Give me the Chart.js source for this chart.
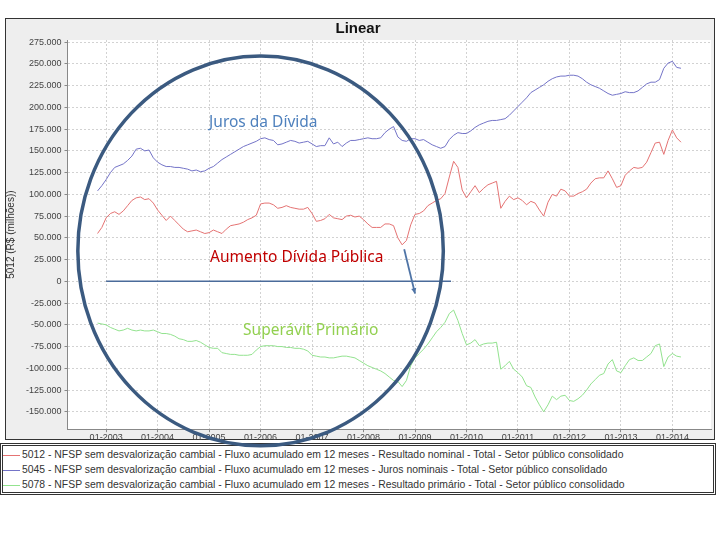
<!DOCTYPE html>
<html>
<head>
<meta charset="utf-8">
<script src="https://cdn.jsdelivr.net/npm/chart.js@4.4.0/dist/chart.umd.min.js"></script>
<style>
    html, body { margin: 0; padding: 0; background: #fff; }
    #wrap { position: relative; width: 720px; height: 540px; }
    #legend {
        position: absolute; left: 0; top: 443px; width: 710px; height: 45px;
        border: 3px double #333; background: #fff;
        font: 10.4px 'Liberation Sans', sans-serif; color: #333; padding-top: 1px;
    }
    #legend div { height: 15px; line-height: 15px; white-space: nowrap; }
    #legend .mark { display: inline-block; width: 17px; height: 0; border-top: 1px solid; vertical-align: middle; margin: 0 2px 0 0; }
    #myChart { position: absolute; left: 0; top: 0; z-index: 2; }
</style>
</head>
<body>
<div id="wrap">
    <div id="legend"></div>
    <canvas id="myChart" width="720" height="540"></canvas>
</div>
<script>
// monthly series, first point = 11/2002 (R$ mil milhões)
const startYear = 2002;
const startMonth = 11;

const nominal = [
    55, 62, 73, 78, 80, 77, 81, 87, 93, 96, 97, 94, 95, 90, 82, 76, 70, 75, 70, 65,
    60, 57, 58, 59, 57, 55, 56, 59, 57, 55, 60, 64, 65, 66, 68, 71, 73, 76, 89, 90,
    90, 88, 84, 85, 87, 85, 84, 83, 83, 85, 78, 69, 70, 72, 77, 73, 72, 71, 75, 76,
    74, 75, 71, 66, 62, 62, 62, 66, 66, 64, 50, 42, 47, 65, 77, 78, 81, 87, 90, 93,
    95, 101, 120, 138, 131, 105, 96, 103, 110, 102, 107, 111, 113, 115, 84, 92, 98, 94, 96, 93,
    88, 92, 90, 82, 75, 91, 100, 98, 106, 104, 98, 98, 101, 103, 106, 113, 118, 119, 119, 127,
    118, 108, 110, 122, 127, 131, 130, 131, 137, 148, 159, 160, 146, 162, 174, 165, 160
];
const juros = [
    104, 110, 117, 125, 131, 133, 135, 139, 144, 152, 153, 150, 151, 142, 137, 134, 132, 132, 131, 131,
    130, 129, 127, 128, 126, 127, 130, 132, 136, 140, 143, 146, 149, 152, 155, 157, 159, 161, 164, 165,
    163, 162, 157, 158, 160, 162, 161, 159, 160, 161, 158, 155, 156, 156, 165, 158, 160, 155, 159, 162,
    162, 163, 164, 165, 164, 164, 165, 171, 175, 178, 166, 162, 161, 164, 164, 162, 163, 160, 157, 155,
    153, 155, 163, 168, 171, 170, 170, 173, 177, 180, 182, 184, 185, 185, 186, 187, 191, 196, 201, 206,
    211, 217, 220, 223, 226, 230, 233, 235, 236, 236, 237, 237, 236, 233, 229, 226, 224, 222, 219, 216,
    214, 215, 216, 218, 217, 217, 219, 223, 227, 229, 229, 232, 245, 251, 253, 246, 245
];
const primario = [
    -48, -49, -50, -53, -55, -57, -56, -54, -56, -57, -56, -57, -57, -56, -58, -60, -60, -61, -63, -66,
    -67, -69, -69, -68, -70, -73, -76, -77, -77, -82, -83, -84, -84, -85, -85, -85, -84, -79, -75, -74,
    -74, -74, -75, -75, -76, -76, -77, -77, -78, -80, -85, -86, -87, -87, -88, -88, -87, -86, -86, -87,
    -88, -91, -94, -97, -99, -101, -103, -106, -110, -114, -115, -121, -114, -97, -88, -83, -78, -72, -65, -58,
    -53, -47, -37, -33, -45, -60, -73, -71, -67, -74, -72, -71, -71, -70, -101, -97, -92, -101, -105, -110,
    -120, -122, -133, -142, -150, -142, -132, -136, -132, -131, -137, -138, -135, -131, -125, -118, -113, -108, -106, -95,
    -90, -103, -105, -97, -90, -88, -91, -91, -87, -83, -74, -72, -98, -87, -83, -86, -87
];

const seriesLabels = [
    '5012 - NFSP sem desvalorização cambial - Fluxo acumulado em 12 meses - Resultado nominal - Total - Setor público consolidado',
    '5045 - NFSP sem desvalorização cambial - Fluxo acumulado em 12 meses - Juros nominais - Total - Setor público consolidado',
    '5078 - NFSP sem desvalorização cambial - Fluxo acumulado em 12 meses - Resultado primário - Total - Setor público consolidado'
];
const seriesColors = ['#e57373', '#7474c8', '#93e38f'];

const yearTicks = [2003, 2004, 2005, 2006, 2007, 2008, 2009, 2010, 2011, 2012, 2013, 2014];
const valueTicks = [-150, -125, -100, -75, -50, -25, 0, 25, 50, 75, 100, 125, 150, 175, 200, 225, 250, 275];

// drawn notes, placed in data units
const notes = [
    { text: 'Juros da Dívida', x: 2005.0, y: 182, color: '#4f81bd' },
    { text: 'Aumento Dívida Pública', x: 2005.02, y: 27, color: '#c00000' },
    { text: 'Superávit Primário', x: 2005.66, y: -57, color: '#92d050' }
];
const ring = { x: 2006.0, y: 35, rx: 3.55, ry: 224 };
const zeroLine = [2003.0, 2009.7];
const arrow = [[2008.79, 37], [2009.0, -14]];

function toPoints(values) {
    return values.map((v, i) => ({ x: startYear + (startMonth - 1 + i) / 12, y: v }));
}

const tickFont = { family: "'Liberation Sans', sans-serif", size: 9 };

const panelPlugin = {
    id: 'panel',
    beforeDraw(chart) {
        const ctx = chart.ctx;
        const a = chart.chartArea;
        ctx.save();
        ctx.fillStyle = '#eeeeee';
        ctx.fillRect(5, 18, 710, 422);
        ctx.strokeStyle = '#333';
        ctx.lineWidth = 1;
        ctx.strokeRect(5.5, 18.5, 709, 421);
        ctx.fillStyle = '#fff';
        ctx.fillRect(a.left, a.top, a.right - a.left, a.bottom - a.top);
        ctx.restore();
    }
};

const notesPlugin = {
    id: 'notes',
    afterDraw(chart) {
        const { ctx, scales: { x, y } } = chart;
        ctx.save();

        ctx.strokeStyle = '#4a6b9a';
        ctx.lineWidth = 1.5;
        ctx.beginPath();
        ctx.moveTo(x.getPixelForValue(zeroLine[0]), y.getPixelForValue(0));
        ctx.lineTo(x.getPixelForValue(zeroLine[1]), y.getPixelForValue(0));
        ctx.stroke();

        const x1 = x.getPixelForValue(arrow[0][0]), y1 = y.getPixelForValue(arrow[0][1]);
        const x2 = x.getPixelForValue(arrow[1][0]), y2 = y.getPixelForValue(arrow[1][1]);
        const ang = Math.atan2(y2 - y1, x2 - x1);
        ctx.strokeStyle = '#4f74a6';
        ctx.fillStyle = '#4f74a6';
        ctx.lineWidth = 1.8;
        ctx.beginPath();
        ctx.moveTo(x1, y1);
        ctx.lineTo(x2, y2);
        ctx.stroke();
        ctx.beginPath();
        ctx.moveTo(x2, y2);
        ctx.lineTo(x2 - 6 * Math.cos(ang - 0.45), y2 - 6 * Math.sin(ang - 0.45));
        ctx.lineTo(x2 - 6 * Math.cos(ang + 0.45), y2 - 6 * Math.sin(ang + 0.45));
        ctx.closePath();
        ctx.fill();

        const cx = x.getPixelForValue(ring.x), cy = y.getPixelForValue(ring.y);
        const rx = x.getPixelForValue(ring.x + ring.rx) - cx;
        const ry = cy - y.getPixelForValue(ring.y + ring.ry);
        ctx.strokeStyle = '#3b5a80';
        ctx.lineWidth = 3.5;
        ctx.beginPath();
        ctx.ellipse(cx, cy, rx, ry, 0, 0, 2 * Math.PI);
        ctx.stroke();

        ctx.font = "15.5px 'Noto Sans', 'Open Sans', sans-serif";
        ctx.textBaseline = 'middle';
        ctx.textAlign = 'left';
        notes.forEach(n => {
            ctx.fillStyle = n.color;
            ctx.fillText(n.text, x.getPixelForValue(n.x), y.getPixelForValue(n.y));
        });
        ctx.restore();
    }
};

const legend = document.getElementById('legend');
seriesLabels.forEach((label, i) => {
    const row = document.createElement('div');
    row.innerHTML = `<span class="mark" style="border-color:${seriesColors[i]}"></span>${label}`;
    legend.appendChild(row);
});

const ctx = document.getElementById('myChart').getContext('2d');
const myChart = new Chart(ctx, {
    type: 'line',
    data: {
        datasets: [nominal, juros, primario].map((values, i) => ({
            label: seriesLabels[i],
            data: toPoints(values),
            borderColor: seriesColors[i],
            backgroundColor: seriesColors[i],
            borderWidth: 1,
            pointRadius: 0,
            tension: 0
        }))
    },
    options: {
        responsive: false,
        animation: false,
        layout: { padding: { left: 5, right: 9, top: 0, bottom: 97 } },
        plugins: {
            legend: { display: false },
            tooltip: { enabled: false },
            title: {
                display: true,
                text: 'Linear',
                color: '#111',
                font: { family: "'Liberation Sans', sans-serif", size: 15, weight: 'bold' },
                padding: { top: 20, bottom: 2 }
            }
        },
        scales: {
            x: {
                type: 'linear',
                min: 2002.25,
                max: 2014.75,
                afterBuildTicks: scale => { scale.ticks = yearTicks.map(v => ({ value: v })); },
                ticks: {
                    autoSkip: false,
                    maxRotation: 0,
                    color: '#444',
                    font: tickFont,
                    padding: 0,
                    callback: v => '01-' + v
                },
                grid: { color: '#d2d2d2', tickColor: '#888', tickLength: 3, tickBorderDash: [] },
                border: { color: '#888', dash: [2, 2] }
            },
            y: {
                min: -170,
                max: 277.5,
                afterBuildTicks: scale => { scale.ticks = valueTicks.map(v => ({ value: v })); },
                ticks: {
                    color: '#444',
                    font: tickFont,
                    padding: 3,
                    callback: v => v === 0 ? '0' : v + '.000'
                },
                grid: { color: '#d2d2d2', tickColor: '#888', tickLength: 3, tickBorderDash: [] },
                border: { color: '#888', dash: [2, 2] },
                title: {
                    display: true,
                    text: '5012 (R$ (milhões))',
                    color: '#333',
                    font: { family: "'Liberation Sans', sans-serif", size: 10 },
                    padding: { top: 0, bottom: 6 }
                }
            }
        }
    },
    plugins: [panelPlugin, notesPlugin]
});
</script>
</body>
</html>
